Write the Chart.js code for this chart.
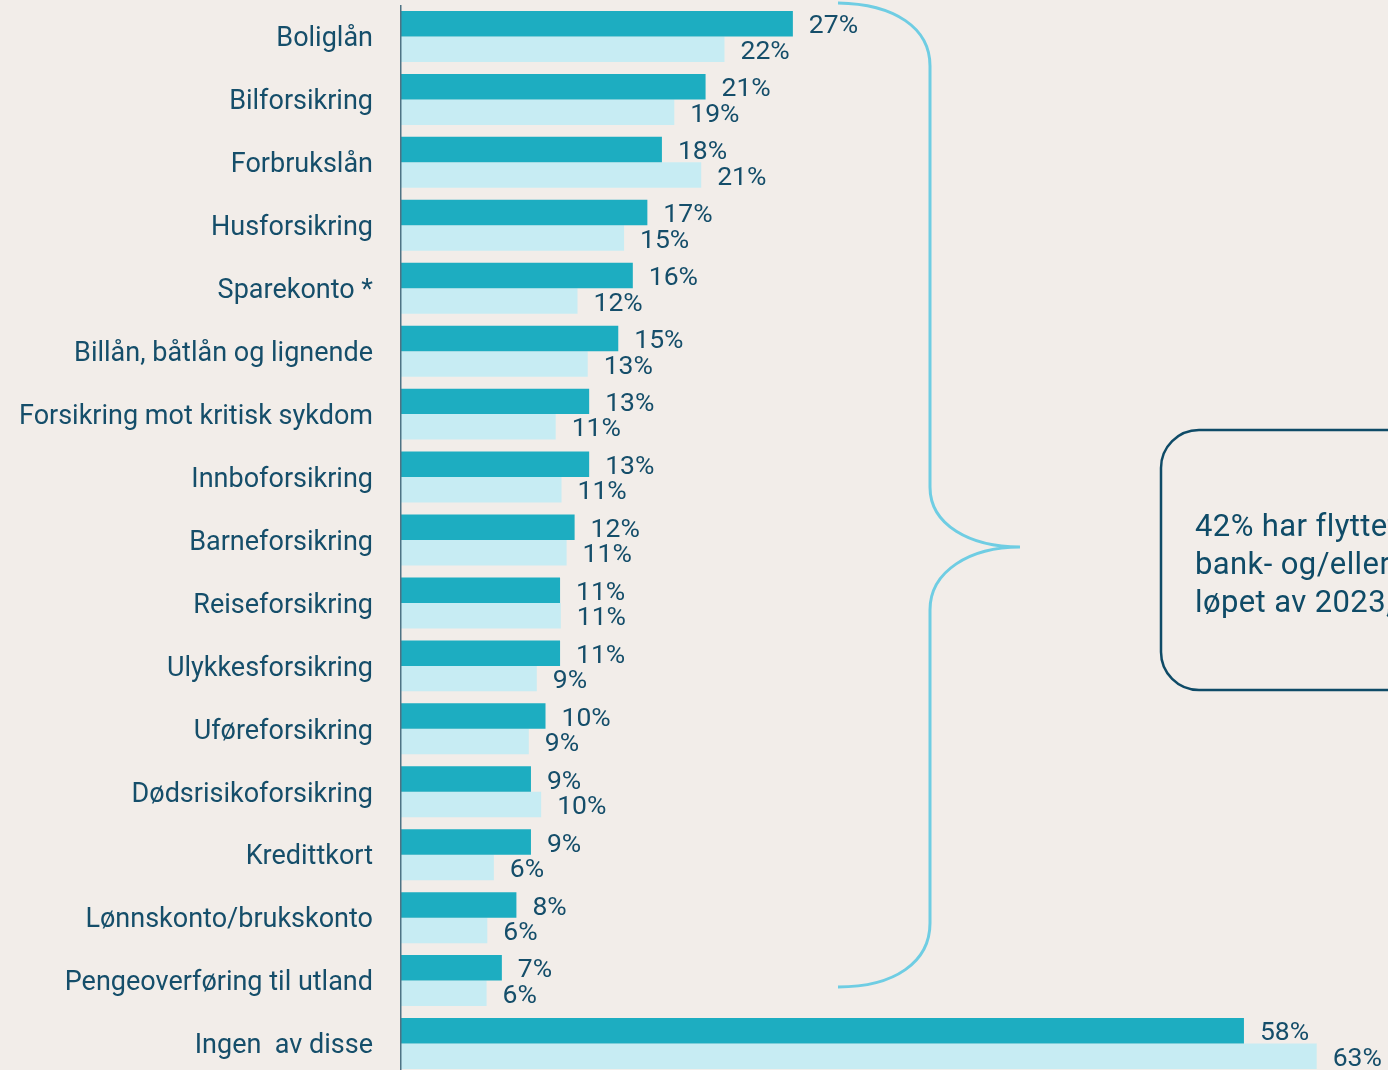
<!DOCTYPE html>
<html>
<head>
<meta charset="utf-8">
<script src="https://cdn.jsdelivr.net/npm/chart.js@4.4.1/dist/chart.umd.min.js"></script>
<style>
  html, body { margin: 0; padding: 0; background: #f2ede9; overflow: hidden; }
  #wrap { width: 1388px; height: 1080px; }
</style>
</head>
<body>
<div id="wrap"><canvas id="c" width="1388" height="1080"></canvas></div>
<script>
const categories = [
  "Boliglån", "Bilforsikring", "Forbrukslån", "Husforsikring", "Sparekonto *",
  "Billån, båtlån og lignende", "Forsikring mot kritisk sykdom", "Innboforsikring",
  "Barneforsikring", "Reiseforsikring", "Ulykkesforsikring", "Uføreforsikring",
  "Dødsrisikoforsikring", "Kredittkort", "Lønnskonto/brukskonto",
  "Pengeoverføring til utland", "Ingen  av disse"
];
const seriesA = [27, 21, 18, 17, 16, 15, 13, 13, 12, 11, 11, 10, 9, 9, 8, 7, 58];
const seriesB = [22.3, 18.85, 20.7, 15.4, 12.2, 12.9, 10.7, 11.1, 11.45, 11.05, 9.4, 8.85, 9.7, 6.45, 6.0, 5.95, 63.0];
const calloutLines = ["42% har flyttet", "bank- og/eller", "løpet av 2023,"];

const FONT = "Roboto, 'Open Sans', sans-serif";
const TEXT = "#154e6a";

const valueLabels = {
  id: "valueLabels",
  afterDatasetsDraw(chart) {
    const ctx = chart.ctx;
    ctx.save();
    ctx.font = "26.5px " + FONT;
    ctx.fillStyle = TEXT;
    ctx.textAlign = "left";
    ctx.textBaseline = "middle";
    chart.data.datasets.forEach((ds, di) => {
      const meta = chart.getDatasetMeta(di);
      meta.data.forEach((bar, i) => {
        ctx.fillText(Math.round(ds.data[i]) + "%", bar.x + 16, bar.y + 3);
      });
    });
    ctx.restore();
  }
};

const decorations = {
  id: "decorations",
  afterDraw(chart) {
    const ctx = chart.ctx;
    const area = chart.chartArea;
    ctx.save();
    // axis line
    ctx.strokeStyle = "#4e7384";
    ctx.lineWidth = 1.5;
    ctx.beginPath();
    ctx.moveTo(area.left + 0.75, area.top);
    ctx.lineTo(area.left + 0.75, area.bottom);
    ctx.stroke();

    // brace
    ctx.strokeStyle = "#6fcde3";
    ctx.lineWidth = 3;
    ctx.lineCap = "butt";
    ctx.beginPath();
    ctx.moveTo(838, 3);
    ctx.bezierCurveTo(895, 4, 930, 28, 930, 66);
    ctx.lineTo(930, 487);
    ctx.bezierCurveTo(930, 525, 970, 547, 1020, 547);
    ctx.bezierCurveTo(970, 547, 930, 571, 930, 610);
    ctx.lineTo(930, 923);
    ctx.bezierCurveTo(930, 962, 895, 987, 838, 987);
    ctx.stroke();

    // callout box
    ctx.strokeStyle = "#0f4b67";
    ctx.lineWidth = 2.5;
    ctx.beginPath();
    ctx.roundRect(1161, 430, 500, 260, 38);
    ctx.stroke();

    ctx.fillStyle = "#0f4b67";
    ctx.font = "31px " + FONT;
    if ("letterSpacing" in ctx) ctx.letterSpacing = "0.4px";
    ctx.textAlign = "left";
    ctx.textBaseline = "alphabetic";
    const baselines = [536, 574, 612];
    calloutLines.forEach((t, i) => ctx.fillText(t, 1195, baselines[i]));
    ctx.restore();
  }
};

new Chart(document.getElementById("c"), {
  type: "bar",
  data: {
    labels: categories,
    datasets: [
      { label: "A", data: seriesA, backgroundColor: "#1dadc1", categoryPercentage: 0.81, barPercentage: 1.0 },
      { label: "B", data: seriesB, backgroundColor: "#c7ecf3", categoryPercentage: 0.81, barPercentage: 1.0 }
    ]
  },
  options: {
    indexAxis: "y",
    responsive: false,
    animation: false,
    devicePixelRatio: 1,
    layout: { autoPadding: false, padding: { top: 5, bottom: 5, left: 0, right: 0 } },
    plugins: { legend: { display: false }, tooltip: { enabled: false } },
    scales: {
      x: { display: false, min: 0, max: 67.9 },
      y: {
        grid: { display: false },
        border: { display: false },
        ticks: {
          color: TEXT,
          font: { family: FONT, size: 27 },
          padding: 19,
          labelOffset: 3,
          autoSkip: false
        },
        afterFit(scale) { scale.width = 400; scale.paddingTop = 0; scale.paddingBottom = 0; }
      }
    }
  },
  plugins: [valueLabels, decorations]
});
</script>
</body>
</html>
